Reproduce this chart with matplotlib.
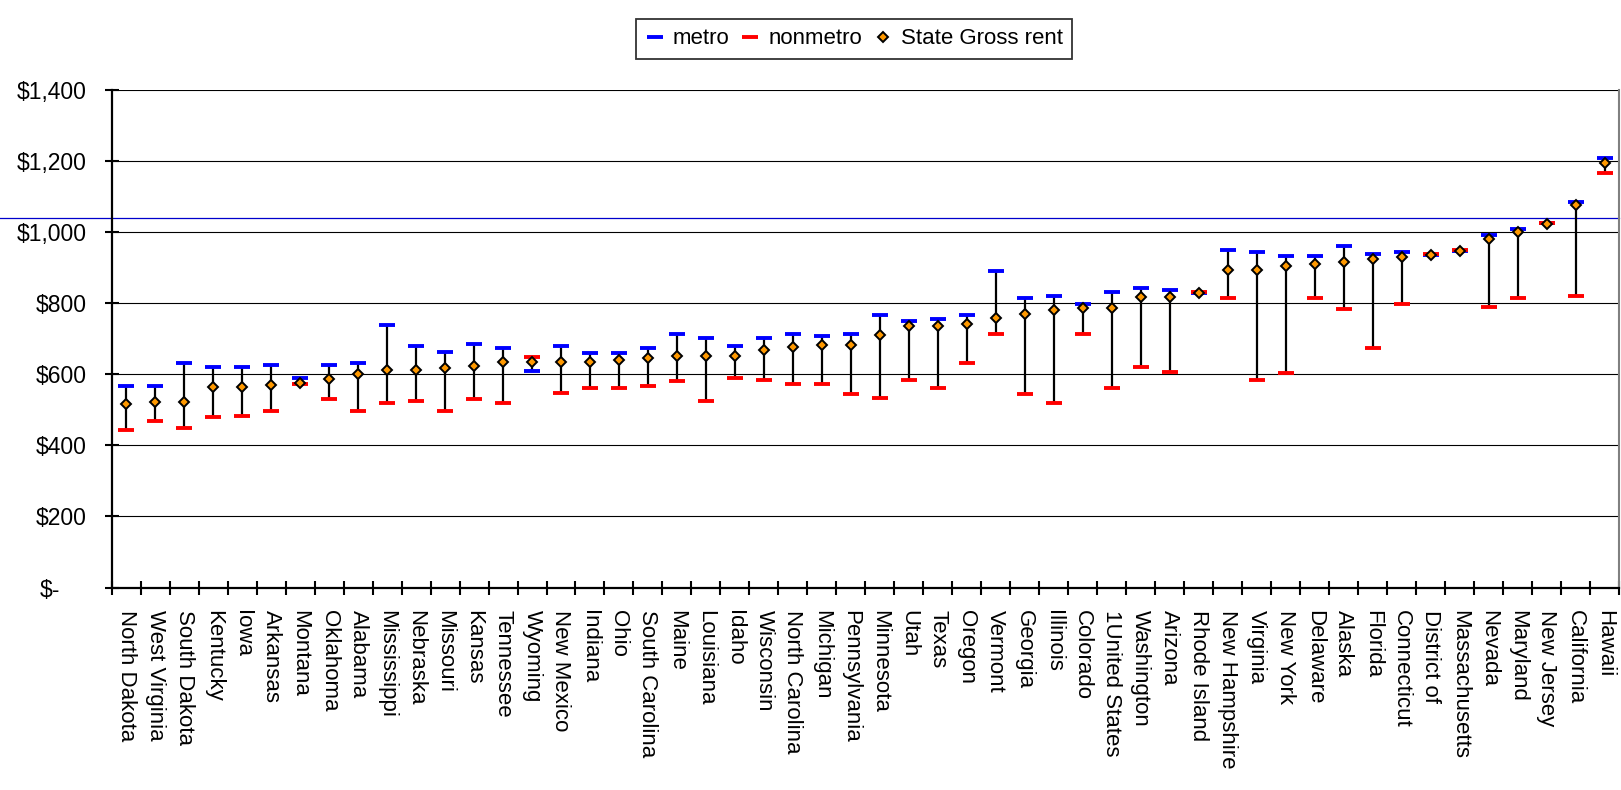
import numpy as np
import matplotlib
matplotlib.use('Agg')
from matplotlib import pyplot as plt
from matplotlib.transforms import ScaledTranslation

plt.rcParams['font.family'] = ['Liberation Sans', 'DejaVu Sans']

states = ['North Dakota', 'West Virginia', 'South Dakota', 'Kentucky', 'Iowa', 'Arkansas',
          'Montana', 'Oklahoma', 'Alabama', 'Mississippi', 'Nebraska', 'Missouri', 'Kansas',
          'Tennessee', 'Wyoming', 'New Mexico', 'Indiana', 'Ohio', 'South Carolina', 'Maine',
          'Louisiana', 'Idaho', 'Wisconsin', 'North Carolina', 'Michigan', 'Pennsylvania',
          'Minnesota', 'Utah', 'Texas', 'Oregon', 'Vermont', 'Georgia', 'Illinois', 'Colorado',
          '1United States', 'Washington', 'Arizona', 'Rhode Island', 'New Hampshire', 'Virginia',
          'New York', 'Delaware', 'Alaska', 'Florida', 'Connecticut', 'District of',
          'Massachusetts', 'Nevada', 'Maryland', 'New Jersey', 'California', 'Hawaii']

metro = [568, 568, 633, 620, 620, 627, 590, 627, 633, 738, 679, 662, 685, 673, 609, 679, 661,
         661, 673, 715, 702, 679, 702, 715, 709, 715, 767, 749, 755, 767, 890, 814, 821, 797,
         832, 844, 838, 830, 949, 944, 932, 932, 961, 938, 944, 935, 947, 992, 1009, 1025,
         1085, 1208]
nonmetro = [443, 468, 450, 479, 484, 497, 574, 532, 497, 520, 526, 497, 532, 520, 650, 549,
            562, 562, 567, 580, 526, 591, 585, 573, 573, 544, 533, 585, 562, 632, 715, 544,
            520, 715, 561, 621, 608, 833, 815, 585, 603, 815, 785, 673, 797, 938, 950, 791,
            815, 1027, 821, 1167]
state_rent = [518, 523, 523, 565, 565, 570, 577, 588, 600, 611, 611, 618, 624, 636, 636, 635,
              635, 641, 647, 653, 653, 653, 670, 676, 682, 682, 712, 735, 735, 741, 759, 770,
              782, 788, 788, 818, 818, 830, 894, 894, 906, 912, 917, 924, 930, 935, 947, 982,
              1000, 1023, 1077, 1194]
ref_line = 1041

y_ticks = [0, 200, 400, 600, 800, 1000, 1200, 1400]
y_labels = ['$-', '$200', '$400', '$600', '$800', '$1,000', '$1,200', '$1,400']

x = np.arange(len(states))
lo = np.minimum(metro, nonmetro)
hi = np.maximum(metro, nonmetro)

fig = plt.figure(figsize=(16.21, 7.90), dpi=100)
ax = fig.add_axes([0.0689, 0.2563, 0.9299, 0.6295])

# high-low lines between metro and nonmetro
ax.vlines(x, lo, hi, colors='black', linewidth=1.6, zorder=3)
ax.plot(x, metro, ls='none', marker='_', markersize=11, markeredgewidth=2.8,
        color='#0000FF', label='metro', zorder=4)
ax.plot(x, nonmetro, ls='none', marker='_', markersize=11, markeredgewidth=2.8,
        color='#FF0000', label='nonmetro', zorder=5)
ax.plot(x, state_rent, ls='none', marker='D', markersize=5.3, markeredgewidth=1.4,
        markerfacecolor='#FF9900', markeredgecolor='black', label='State Gross rent', zorder=6)

ax.axhline(ref_line, xmin=-0.0741, xmax=1, clip_on=False, color='#0000CC', linewidth=0.9,
           zorder=2)

ax.set_xlim(-0.5, len(states) - 0.5)
ax.set_ylim(0, 1400)

ax.tick_params(axis='y', direction='inout', length=10, width=1.5, pad=13)
ax.set_yticks(y_ticks)
ax.set_yticklabels(y_labels, fontsize=16.5)
ax.yaxis.grid(True, color='black', linewidth=0.8)
ax.set_axisbelow(True)

# ticks at category edges, labels at category centres
ax.set_xticks(np.arange(len(states) + 1) - 0.5)
ax.set_xticklabels([])
ax.set_xticks(x, minor=True)
ax.set_xticklabels(states, minor=True, rotation=-90, fontsize=16)
ax.tick_params(axis='x', which='major', direction='inout', length=10, width=1.5)
ax.tick_params(axis='x', which='minor', length=0, pad=16)

# accounting style: the zero label sits further left
zero_lab = ax.get_yticklabels()[0]
zero_lab.set_transform(zero_lab.get_transform()
                       + ScaledTranslation(-0.27, 0, fig.dpi_scale_trans))

ax.spines['top'].set_visible(False)
ax.spines['left'].set_linewidth(1.6)
ax.spines['bottom'].set_linewidth(1.6)
ax.spines['right'].set_color('#808080')
ax.spines['right'].set_linewidth(1.5)

leg = fig.legend(loc='upper center', bbox_to_anchor=(0.527, 0.99), ncol=3, fontsize=16,
                 frameon=True, fancybox=False, edgecolor='black', numpoints=1,
                 handlelength=0.8, handletextpad=0.4, columnspacing=0.55, borderpad=0.42)
leg.get_frame().set_linewidth(1.3)

fig.savefig('out.png', dpi=100)
